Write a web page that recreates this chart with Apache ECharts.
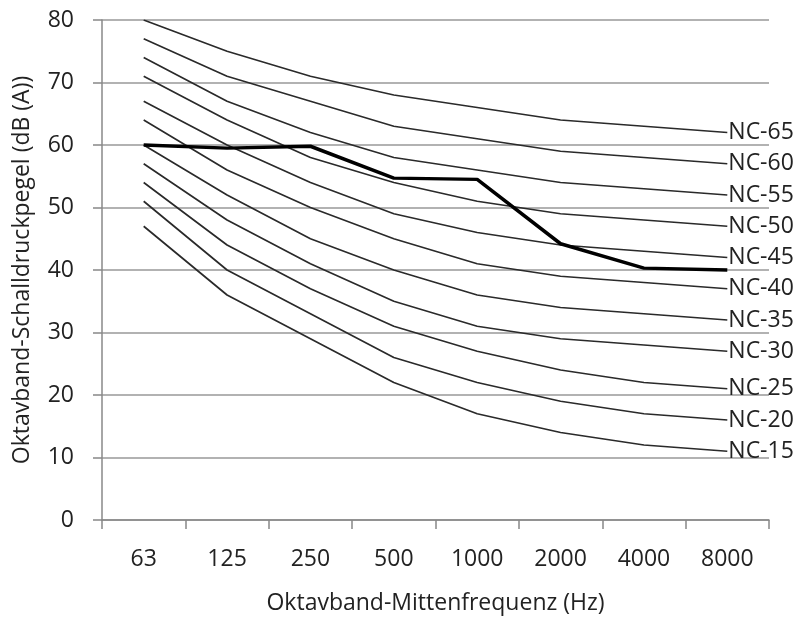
<!DOCTYPE html>
<html>
<head>
<meta charset="utf-8">
<script src="https://cdn.jsdelivr.net/npm/echarts@6/dist/echarts.min.js"></script>
<style>html,body{margin:0;padding:0;background:#fff}#c{width:806px;height:632px}</style>
</head>
<body>
<div id="c"></div>
<script>
const categories = ['63', '125', '250', '500', '1000', '2000', '4000', '8000'];
const yTicks = [0, 10, 20, 30, 40, 50, 60, 70, 80];
const nc15 = [47, 36, 29, 22, 17, 14, 12, 11];
const nc20 = [51, 40, 33, 26, 22, 19, 17, 16];
const nc25 = [54, 44, 37, 31, 27, 24, 22, 21];
const nc30 = [57, 48, 41, 35, 31, 29, 28, 27];
const nc35 = [60, 52, 45, 40, 36, 34, 33, 32];
const nc40 = [64, 56, 50, 45, 41, 39, 38, 37];
const nc45 = [67, 60, 54, 49, 46, 44, 43, 42];
const nc50 = [71, 64, 58, 54, 51, 49, 48, 47];
const nc55 = [74, 67, 62, 58, 56, 54, 53, 52];
const nc60 = [77, 71, 67, 63, 61, 59, 58, 57];
const nc65 = [80, 75, 71, 68, 66, 64, 63, 62];
const measured = [60, 59.5, 59.8, 54.7, 54.5, 44.2, 40.3, 40];

const ncNames = ['NC-15','NC-20','NC-25','NC-30','NC-35','NC-40','NC-45','NC-50','NC-55','NC-60','NC-65'];
const ncData = [nc15, nc20, nc25, nc30, nc35, nc40, nc45, nc50, nc55, nc60, nc65];

const FONT = '"Open Sans", sans-serif';
const TXT = '#222';
const series = ncData.map((d, i) => ({
  name: ncNames[i],
  type: 'line',
  data: d,
  symbol: 'none',
  silent: true,
  lineStyle: { color: '#2a2a2a', width: 1.7 },
  endLabel: { show: true, formatter: '{a}', color: TXT, fontSize: 23, fontFamily: FONT, distance: 1 },
  z: 2
}));
series.push({
  name: 'Messung',
  type: 'line',
  data: measured,
  symbol: 'none',
  lineStyle: { color: '#000', width: 3.5 },
  z: 3
});

const chart = echarts.init(document.getElementById('c'));
chart.setOption({
  animation: false,
  backgroundColor: '#fff',
  grid: { left: 102, right: 37, top: 20, bottom: 112, containLabel: false },
  xAxis: {
    type: 'category',
    data: categories,
    boundaryGap: true,
    name: 'Oktavband-Mittenfrequenz (Hz)',
    nameLocation: 'middle',
    nameGap: 72,
    nameTextStyle: { fontSize: 23, color: TXT, fontFamily: FONT },
    axisLine: { lineStyle: { color: '#888', width: 1.5 } },
    axisTick: { show: true, inside: false, length: 9, alignWithLabel: false, lineStyle: { color: '#888', width: 1.5 } },
    axisLabel: { margin: 28, fontSize: 23, color: TXT, fontFamily: FONT },
    splitLine: { show: false }
  },
  yAxis: {
    type: 'value',
    min: 0, max: 80, interval: 10,
    name: 'Oktavband-Schalldruckpegel (dB (A))',
    nameLocation: 'middle',
    nameRotate: 90,
    nameGap: 68,
    nameTextStyle: { fontSize: 23, color: TXT, fontFamily: FONT },
    axisLine: { show: true, lineStyle: { color: '#888', width: 1.5 } },
    axisTick: { show: true, inside: false, length: 9, lineStyle: { color: '#888', width: 1.5 } },
    axisLabel: { margin: 28, fontSize: 23, color: TXT, fontFamily: FONT,
      formatter: v => yTicks.includes(v) ? String(v) : '' },
    splitLine: { show: true, lineStyle: { color: '#999', width: 1.5 } }
  },
  series: series
});
</script>
</body>
</html>
